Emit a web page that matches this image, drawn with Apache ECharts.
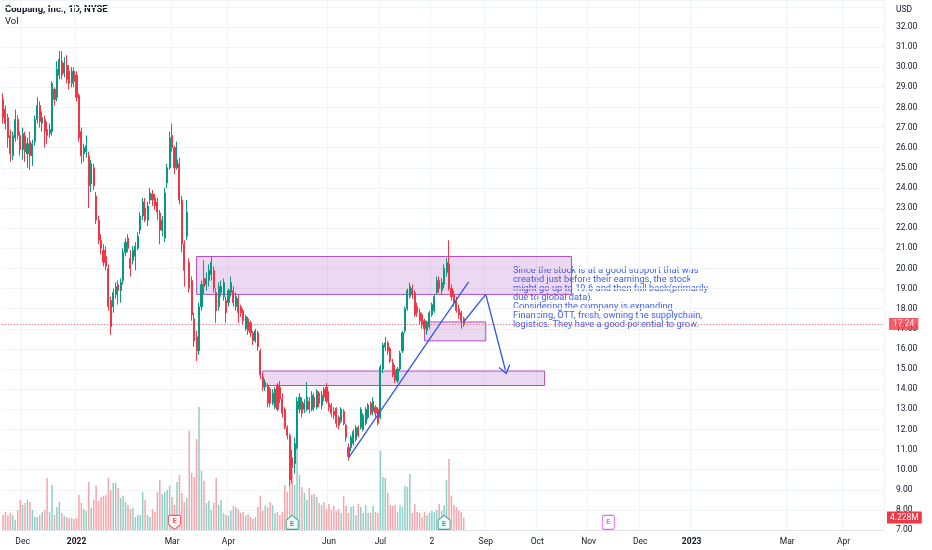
<!DOCTYPE html>
<html><head><meta charset="utf-8">
<script src="https://cdn.jsdelivr.net/npm/echarts@6/dist/echarts.min.js"></script>
<style>html,body{margin:0;padding:0;background:#fff}#c{width:932px;height:550px}</style>
</head><body><div id="c"></div>
<script>
// ---------- data ----------
const startDate = '2021-11-18';
const categoryCount = 360;
const holidays = ['2021-11-25','2021-12-24','2022-01-17','2022-02-21','2022-04-15','2022-05-30','2022-06-20','2022-07-04','2022-09-05','2022-11-24','2022-12-26','2023-01-02','2023-01-16','2023-02-20','2023-04-07'];
const tickLabels = {'2021-12-01':'Dec','2022-01-03':'2022','2022-03-01':'Mar','2022-04-01':'Apr','2022-06-01':'Jun','2022-07-01':'Jul','2022-08-02':'2','2022-09-01':'Sep','2022-10-03':'Oct','2022-11-01':'Nov','2022-12-01':'Dec','2023-01-03':'2023','2023-03-01':'Mar','2023-04-03':'Apr'};
const boldTicks = ['2022','2023'];
const priceTicks = [7,8,9,10,11,12,13,14,15,16,17,18,19,20,21,22,23,24,25,26,27,28,29,30,31,32];
// [open, close, low, high]
const ohlc = [
[28.4,27.5,27.2,28.7],[27.9,27.2,26.9,28.1],[27.5,26.5,26.0,27.7],[26.6,25.7,25.3,26.9],[25.6,26.6,25.4,26.8],
[26.5,27.4,26.3,27.9],[27.4,26.6,26.4,27.6],[26.6,25.9,25.6,26.8],[25.9,26.7,25.4,27.0],[26.6,25.8,25.3,26.8],
[25.7,26.2,25.0,26.5],[26.3,25.6,24.9,26.8],[25.6,26.2,25.1,26.4],[26.3,27.4,26.1,27.6],[27.4,28.1,27.2,28.5],
[28.1,27.3,27.0,28.3],[27.2,27.5,26.8,27.8],[27.4,26.8,26.0,27.6],[26.9,26.6,26.2,27.3],[26.7,26.9,26.5,27.2],
[26.8,29.2,26.6,29.3],[28.9,28.4,28.1,29.0],[28.5,29.9,28.3,30.3],[29.6,30.4,29.4,30.8],[30.3,29.6,29.4,30.8],
[29.7,30.2,29.5,30.5],[30.1,29.4,29.2,30.6],[29.8,29.2,28.9,30.1],[29.2,29.8,29.0,30.0],[29.8,29.3,29.0,30.0],
[29.6,28.5,28.3,29.8],[28.6,26.5,26.3,28.7],[26.8,25.6,25.2,27.0],[25.7,26.0,25.3,26.2],[25.8,26.1,25.5,26.6],
[25.6,24.1,23.0,25.8],[24.2,25.2,23.8,25.4],[25.0,24.1,23.9,25.2],[23.6,22.4,22.2,23.8],[22.4,21.4,21.2,22.6],
[21.4,21.0,20.7,21.7],[20.9,20.3,20.1,21.2],[20.6,20.1,19.9,21.1],[20.0,18.1,17.9,20.2],[18.4,17.1,16.7,18.6],
[18.1,18.8,17.8,19.0],[18.7,19.1,18.5,19.3],[19.2,18.9,18.2,19.4],[18.9,19.3,18.3,19.5],[19.4,20.8,19.2,21.0],
[20.8,21.3,20.6,21.5],[21.5,21.0,20.8,21.7],[20.5,20.0,19.6,20.9],[20.4,20.9,20.2,21.1],[20.6,21.1,19.9,21.3],
[21.0,21.6,20.9,21.8],[21.9,22.6,21.7,22.8],[22.6,23.3,22.4,23.5],[23.0,22.4,22.3,23.5],[22.4,23.1,22.1,23.3],
[23.4,23.75,23.2,24.0],[23.7,23.4,23.1,23.9],[23.5,23.1,22.9,23.7],[23.3,22.8,22.4,23.5],[22.75,21.9,21.2,22.9],
[21.9,22.4,21.6,22.6],[21.5,23.75,21.3,24.0],[24.25,25.0,24.0,25.2],[25.0,26.5,24.9,26.8],[26.6,26.0,25.8,27.2],
[26.0,25.0,24.7,26.1],[25.0,25.4,24.9,26.3],[25.2,23.4,23.2,25.5],[23.4,21.2,20.8,23.6],[21.2,19.9,19.1,21.4],
[21.6,22.8,21.4,23.4],[20.3,19.0,18.8,20.5],[19.4,17.7,17.4,19.6],[17.5,16.4,16.1,17.8],[16.6,15.9,15.4,16.9],
[15.9,18.1,15.7,18.3],[18.1,19.2,17.9,19.4],[19.5,19.1,18.7,20.4],[19.2,19.5,18.9,19.8],[19.4,19.9,19.1,20.2],
[19.7,20.3,19.4,20.6],[19.9,19.0,18.8,20.1],[18.8,17.9,17.3,19.0],[18.1,19.1,17.9,19.3],[18.8,19.1,18.6,19.4],
[18.6,19.3,18.4,19.5],[18.4,17.8,17.3,18.6],[18.3,18.9,18.1,19.0],[18.8,19.3,18.6,19.6],[18.9,18.3,18.1,19.1],
[18.1,18.6,17.9,18.8],[18.5,17.8,17.3,18.7],[18.1,17.8,17.6,18.2],[17.9,17.4,17.2,18.0],[17.0,17.6,16.9,17.7],
[17.5,16.9,16.7,17.6],[17.3,16.8,16.6,17.4],[16.8,16.4,16.2,16.9],[16.4,16.9,16.3,17.0],[16.8,16.1,15.9,16.9],
[15.9,14.7,14.5,16.0],[14.6,14.1,13.9,14.8],[14.1,14.35,13.9,14.5],[14.2,13.3,13.1,14.3],[14.0,13.3,13.1,14.1],
[13.3,13.8,13.2,14.0],[13.1,14.0,13.0,14.1],[14.2,13.0,12.9,14.3],[14.1,13.5,13.3,14.4],[13.5,12.8,12.6,13.8],
[13.0,12.1,12.0,13.1],[12.1,11.7,11.5,12.2],[11.7,9.5,9.2,11.8],[10.6,10.1,9.3,11.0],[10.3,11.3,9.8,11.6],
[11.1,13.4,11.0,13.6],[13.0,13.6,12.8,13.8],[13.4,12.8,12.6,13.6],[13.0,13.3,12.8,13.5],[13.0,13.6,12.9,14.35],
[13.4,13.0,12.8,13.6],[13.0,13.7,12.9,13.9],[13.6,13.1,12.9,13.8],[13.1,13.9,13.0,14.0],[13.8,13.3,13.1,13.9],
[13.2,13.7,13.0,13.9],[14.0,13.6,13.4,14.1],[14.1,13.4,13.3,14.3],[13.3,13.1,12.9,13.9],[13.2,12.8,12.6,13.3],
[12.9,12.7,12.5,13.1],[13.05,12.3,12.1,13.1],[12.6,12.2,12.0,12.7],[12.4,13.0,12.3,13.1],[12.9,12.3,12.2,13.0],
[12.2,11.6,11.4,12.3],[11.1,10.65,10.45,11.3],[11.1,11.6,10.9,11.7],[11.3,11.9,11.2,12.0],[11.5,12.1,11.4,12.2],
[12.1,11.7,11.6,12.2],[12.1,13.0,12.0,13.1],[12.0,12.7,11.9,12.8],[12.3,13.0,12.2,13.1],[12.6,13.2,12.5,13.3],
[13.3,12.8,12.7,13.4],[12.9,13.4,12.7,13.6],[13.1,12.8,12.6,13.2],[13.0,12.3,12.2,13.1],[12.6,15.1,12.5,15.2],
[15.0,16.2,14.8,16.3],[16.1,16.3,15.9,16.6],[16.3,15.9,15.7,16.4],[16.0,15.4,15.3,16.1],[15.3,14.7,14.6,15.5],
[14.95,14.45,14.3,15.2],[14.4,15.0,14.3,15.1],[15.0,15.8,14.9,15.9],[15.9,16.8,15.8,16.9],[16.9,18.0,16.8,18.1],
[18.0,18.9,17.9,19.0],[18.6,19.1,18.5,19.3],[19.0,18.7,18.5,19.2],[18.8,17.7,17.6,18.9],[18.1,17.8,17.6,18.3],
[17.8,17.4,17.2,18.0],[17.7,17.2,17.0,17.8],[17.4,17.0,16.8,17.5],[16.9,17.3,16.7,17.4],[17.1,17.8,17.0,17.9],
[17.7,18.2,17.6,18.3],[17.9,18.6,17.8,18.7],[18.8,19.4,18.7,19.6],[19.4,19.0,18.8,19.6],[18.9,19.3,18.7,19.5],
[19.2,20.0,19.0,20.2],[19.8,20.3,19.6,20.5],[20.2,19.0,18.9,21.4],[19.0,18.6,18.4,19.2],[18.7,18.3,18.1,18.9],
[18.4,17.9,17.8,18.6],[18.0,17.7,17.5,18.2],[17.8,17.4,17.0,17.9],[17.5,17.24,17.1,17.6]
];
// volume, millions
const volumes = [
5.1,6.1,4.8,5.8,5.1,3.4,6.8,10.2,8.5,9.2,10.2,9.5,6.8,4.4,4.4,5.1,6.1,6.8,17.7,6.1,
15.3,5.1,7.8,9.5,5.8,4.8,4.4,4.1,4.1,3.7,4.1,11.9,9.2,7.1,6.5,16.3,7.5,10.2,15.0,9.9,
11.2,11.6,11.9,17.7,13.6,16.0,16.0,14.3,10.9,11.6,9.5,8.5,7.1,7.5,4.4,5.1,5.1,12.9,10.2,5.1,
4.4,7.1,6.1,12.9,17.0,12.2,12.9,13.6,15.0,11.2,8.5,16.3,18.7,12.6,9.5,10.9,33.7,19.4,18.0,30.9,
41.8,20.1,16.7,9.2,9.9,6.8,9.2,17.7,8.5,10.2,5.8,5.1,4.8,6.5,8.2,7.8,7.1,5.8,6.1,4.8,
5.4,4.4,3.7,4.4,7.8,11.6,6.5,8.2,7.8,9.5,8.5,5.8,6.1,5.1,6.1,15.3,12.9,17.0,20.4,15.3,
31.3,18.7,14.6,12.6,10.2,14.3,11.9,12.2,11.2,9.2,8.5,9.5,7.1,8.8,6.8,8.2,6.5,7.1,5.8,11.6,
8.2,5.8,7.8,8.2,5.1,8.8,7.8,5.8,8.5,5.8,5.8,8.2,6.1,5.8,26.9,18.0,17.7,12.6,8.5,8.2,
8.5,6.1,8.5,7.8,15.0,14.6,19.0,5.8,8.8,6.1,5.8,4.4,6.1,5.1,5.8,6.5,6.1,6.8,8.8,6.5,
8.5,17.0,24.1,11.6,8.5,7.8,6.8,6.1,4.228
];
const lastPrice = 17.24;
const lastVolume = 4.228;
const earningsDates = ['2022-03-02','2022-05-10','2022-08-09','2022-11-11'];
const earningsKinds = ['down','up','up','future'];
const zoneStarts = [['2022-03-15',20.59],['2022-07-28',17.34],['2022-04-22',14.90]];
const zoneEnds = [['2022-10-21',18.71],['2022-09-01',16.40],['2022-10-06',14.18]];
const trendStart = ['2022-06-13',10.58];
const trendEnd = ['2022-08-23',19.33];
const arrowPath = [['2022-08-19',17.35],['2022-09-01',18.71],['2022-09-14',14.95]];
const noteLines = [
'Since the stock is at a good support that was',
'created just before their earnings, the stock',
'might go up to 19.6 and then fall back(primarily',
'due to global data).',
'Considering the company is expanding',
'Financing, OTT, fresh, owning the supplychain,',
'logistics. They have a good potential to grow.'
];

// ---------- build ----------
function fmt(d){return d.toISOString().slice(0,10);}
const dates = [];
{
  const d = new Date(startDate + 'T00:00:00Z');
  while (dates.length < categoryCount) {
    const wd = d.getUTCDay();
    const s = fmt(d);
    if (wd !== 0 && wd !== 6 && holidays.indexOf(s) < 0) dates.push(s);
    d.setUTCDate(d.getUTCDate() + 1);
  }
}
const UP = '#089981', DOWN = '#f23645';
const UPV = '#8dd0c5', DOWNV = '#f8a4a9';
const FONT = 'Roboto, "Liberation Sans", Arial, sans-serif';

const volData = volumes.map((v, i) => ({
  value: v,
  itemStyle: {color: ohlc[i][1] >= ohlc[i][0] ? UPV : DOWNV}
}));

const badgeSymbols = {
  down: 'path://M1,0H11Q12,0 12,1V9L6,14L0,9V1Q0,0 1,0Z',
  up: 'path://M6,0L12,5V13Q12,14 11,14H1Q0,14 0,13V5Z',
  future: 'path://M1.5,0H10.5Q12,0 12,1.5V11.5Q12,13 10.5,13H1.5Q0,13 0,11.5V1.5Q0,0 1.5,0Z'
};
const badgeColors = {down: '#f23645', up: '#089981', future: '#e040fb'};
const earnData = earningsDates.map((d, i) => {
  const k = earningsKinds[i];
  return {
    value: [d, 7.38],
    symbol: badgeSymbols[k],
    symbolSize: [12, 14],
    itemStyle: {color: '#ffffff', borderColor: badgeColors[k], borderWidth: 1},
    label: {show: true, formatter: 'E', color: badgeColors[k], fontSize: 7.5, fontWeight: 'bold', fontFamily: FONT, position: 'inside', offset: [0, k === 'up' ? 1.5 : (k === 'down' ? -1 : 0)]}
  };
});

const zoneData = zoneStarts.map((s, i) => [{coord: s}, {coord: zoneEnds[i]}]);

const arrowHead = 'path://M0,0L6,9L5,10L0,2.4L-5,10L-6,9Z';
const drawLines = [
  [{coord: trendStart, symbol: 'none'}, {coord: trendEnd, symbol: 'none'}],
  [{coord: arrowPath[0], symbol: 'none'}, {coord: arrowPath[1], symbol: 'none'}],
  [{coord: arrowPath[1], symbol: 'none'}, {coord: arrowPath[2], symbol: arrowHead, symbolSize: [12, 9]}]
];

const chart = echarts.init(document.getElementById('c'), null, {renderer: 'canvas'});
chart.setOption({
  animation: false,
  backgroundColor: '#ffffff',
  textStyle: {fontFamily: FONT},
  grid: {left: 0, right: 48, top: 0, bottom: 20, containLabel: false},
  xAxis: {
    type: 'category',
    data: dates,
    boundaryGap: true,
    axisLine: {show: true, lineStyle: {color: '#e0e3eb'}},
    axisTick: {show: false},
    axisLabel: {
      interval: 0, margin: 7, fontSize: 8.5, color: '#131722', fontFamily: FONT,
      formatter: v => {
        const t = tickLabels[v];
        if (!t) return '';
        return boldTicks.indexOf(t) >= 0 ? '{b|' + t + '}' : t;
      },
      rich: {b: {fontWeight: 'bold', fontSize: 8.5, color: '#131722', fontFamily: FONT}}
    },
    splitLine: {show: true, interval: (idx, v) => !!tickLabels[v], lineStyle: {color: '#f0f3fa', width: 1}}
  },
  yAxis: [{
    type: 'value', position: 'right', min: 7, max: 33.34, interval: 1,
    axisLine: {show: false}, axisTick: {show: false},
    axisLabel: {
      margin: 12, fontSize: 8.5, color: '#131722', fontFamily: FONT,
      formatter: v => priceTicks.indexOf(Math.round(v * 100) / 100) >= 0 ? v.toFixed(2) : ''
    },
    splitLine: {show: true, lineStyle: {color: '#f0f3fa', width: 1}}
  }, {
    type: 'value', min: 0, max: 180, show: false
  }],
  graphic: [
    {type: 'text', left: 5, top: 5, style: {text: 'Coupang, Inc., 1D, NYSE', fontSize: 9.5, fontWeight: 'bold', fill: '#131722', fontFamily: FONT}},
    {type: 'text', left: 5, top: 17, style: {text: 'Vol', fontSize: 9.5, fill: '#131722', fontFamily: FONT}},
    {type: 'text', left: 896, top: 5, style: {text: 'USD', fontSize: 8.5, fill: '#131722', fontFamily: FONT}},
    {type: 'text', left: 513, top: 266, style: {text: noteLines.join('\n'), fontSize: 9.3, lineHeight: 9.1, fill: '#3f5ff0', fontFamily: FONT}}
  ],
  series: [
    {
      name: 'Vol', type: 'bar', xAxisIndex: 0, yAxisIndex: 1, data: volData,
      barWidth: 1.5, z: 1, silent: true,
      markLine: {
        silent: true, symbol: 'none',
        data: [{yAxis: lastVolume, lineStyle: {color: 'rgba(0,0,0,0)', width: 1},
          label: {show: true, position: 'end', distance: 3, formatter: '4.228M', color: '#fff', backgroundColor: '#f23645', padding: [2, 3, 1, 3], fontSize: 8.5, fontFamily: FONT}}]
      }
    },
    {
      name: 'Price', type: 'candlestick', data: ohlc, barWidth: 1.6, z: 3,
      itemStyle: {color: UP, color0: DOWN, borderColor: UP, borderColor0: DOWN, borderWidth: 1},
      markArea: {
        silent: true,
        itemStyle: {color: 'rgba(156,39,176,0.18)', borderColor: '#b04cc2', borderWidth: 1},
        data: zoneData
      },
      markLine: {
        silent: true, symbol: 'none', animation: false,
        data: [
          {yAxis: lastPrice, lineStyle: {type: [1, 2], color: '#f23645', width: 1, opacity: 0.8},
           label: {show: true, position: 'end', distance: 5, formatter: '17.24', color: '#fff', backgroundColor: '#f23645', padding: [2, 4, 1, 4], fontSize: 8.5, fontFamily: FONT}}
        ]
      }
    },
    {
      name: 'Drawings', type: 'line', data: [], z: 4,
      markLine: {
        silent: true, animation: false,
        lineStyle: {color: '#2f55ee', width: 1.3, type: 'solid'},
        label: {show: false},
        data: drawLines
      }
    },
    {
      name: 'Earnings', type: 'scatter', data: earnData, z: 5, silent: true
    }
  ]
});
</script>
</body></html>
